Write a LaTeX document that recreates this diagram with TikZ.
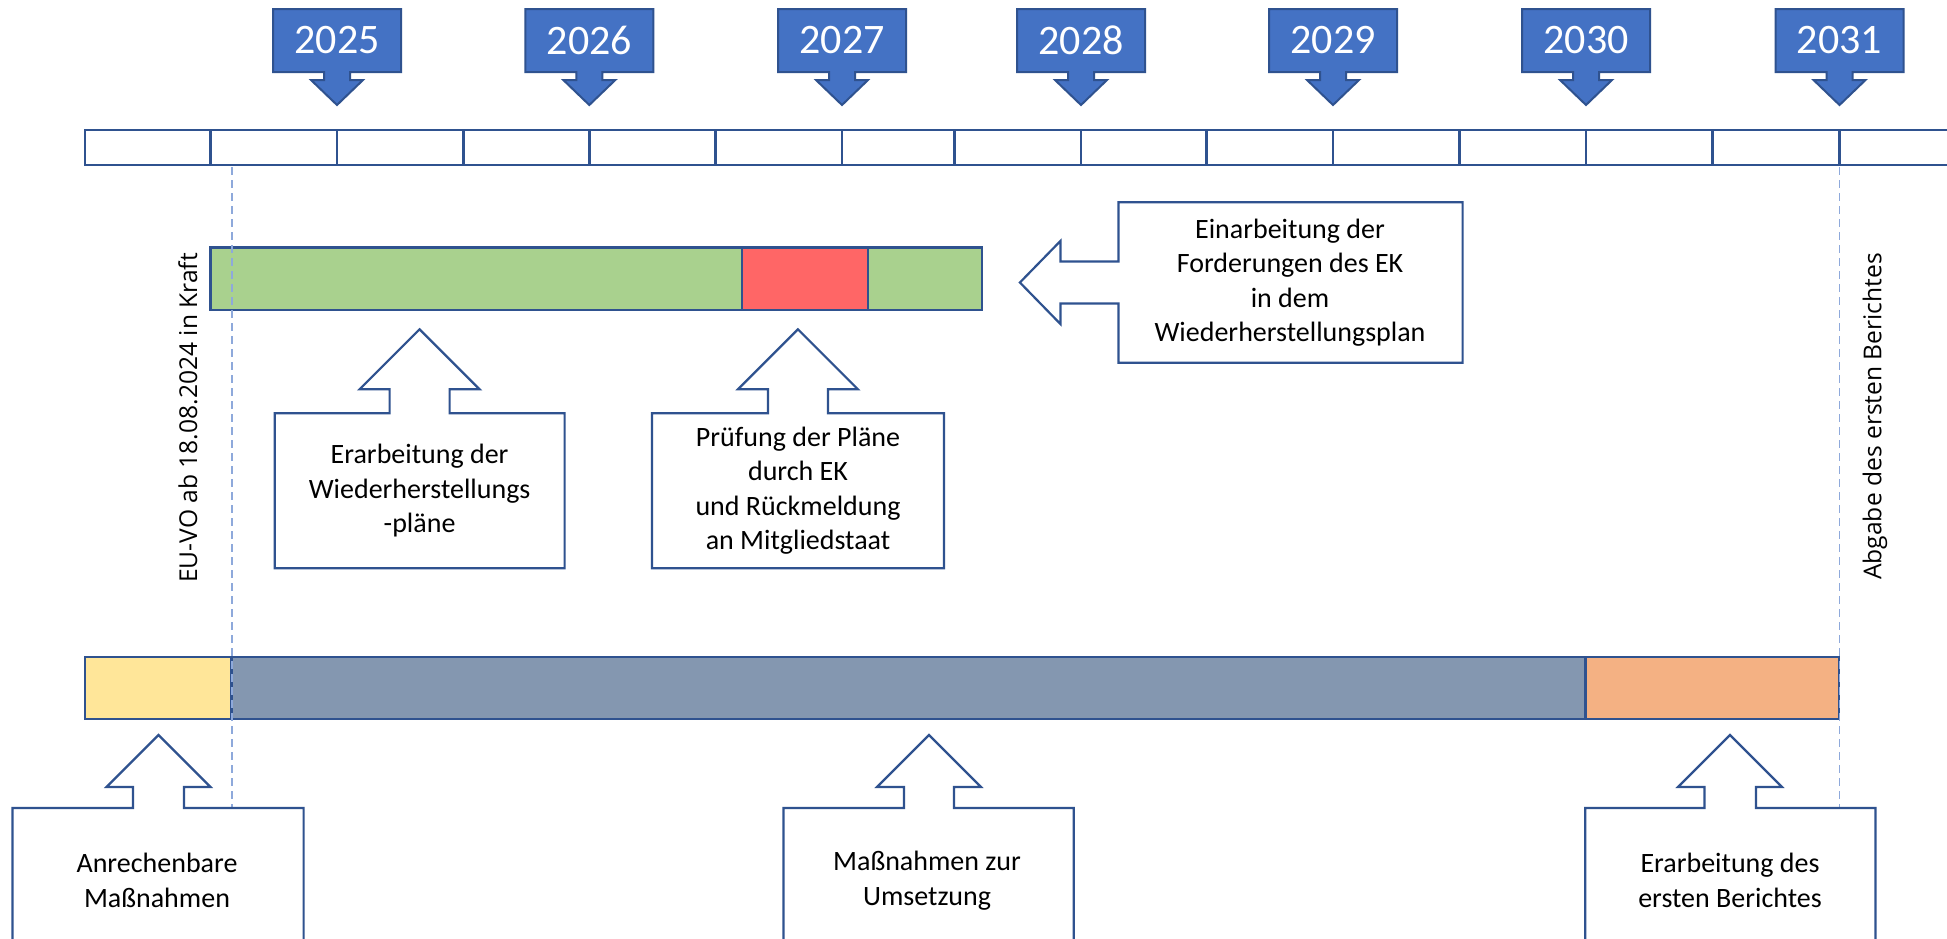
\documentclass[tikz,border=0pt]{standalone}
\usepackage{fontspec}
\setmainfont{Carlito}
\newfontfamily\rotfont{Open Sans}
\definecolor{dkblue}{HTML}{2F528F}
\definecolor{yrblue}{HTML}{4472C4}
\definecolor{guideblue}{HTML}{8EA9DB}
\definecolor{grn}{HTML}{A9D18E}
\definecolor{rd}{HTML}{FF6666}
\definecolor{slate}{HTML}{8497B0}
\definecolor{yel}{HTML}{FFE699}
\definecolor{org}{HTML}{F4B183}
\begin{document}
\begin{tikzpicture}[x=0.5pt,y=-0.5pt,
  outl/.style={draw=dkblue, line width=1.1pt, line join=miter},
  barline/.style={draw=dkblue, line width=1.3pt},
  yearbox/.style={fill=yrblue, draw=dkblue, line width=1pt},
  calltext/.style={align=center, font=\fontsize{14}{17.2}\selectfont, inner sep=0pt},
  yeartext/.style={text=white, font=\fontsize{21}{25}\selectfont, inner sep=0pt},
  rottext/.style={rotate=90, font=\rotfont\fontsize{12.3}{14}\selectfont, inner sep=0pt},
  guide/.style={draw=guideblue, line width=0.6pt, dash pattern=on 4pt off 2.5pt}]
\useasboundingbox (0,0) rectangle (1947,938);
\clip (0,0) rectangle (1947,938);
\fill[white] (0,0) rectangle (1947,938);

% year callouts
\foreach \yr/\tx in {2025/337,2026/589.3,2027/842,2028/1081,2029/1333,2030/1586,2031/1839.5}{
  \draw[yearbox] (\tx-64,9) -- (\tx+64,9) -- (\tx+64,72) -- (\tx+13,72) -- (\tx+13,80)
     -- (\tx+26,80) -- (\tx,105) -- (\tx-26,80) -- (\tx-13,80) -- (\tx-13,72) -- (\tx-64,72) -- cycle;
  \node[yeartext] (y\yr) at (\tx,40) {\yr};
}

% timeline bar
\draw[barline, fill=white] (84.8,130) rectangle (1965,165);
\foreach \dx in {210.7,337,463.4,589.3,715.6,842,954.5,1080.8,1206.7,1333,1459.3,1585.9,1712.2,1839.5}{
  \draw[barline] (\dx,130) -- (\dx,165);
}

% green/red bar
\draw[barline, fill=grn] (210.7,247.7) rectangle (982,310);
\draw[barline, fill=rd] (742,247.7) rectangle (868,310);

% bottom bar
\draw[barline, fill=yel] (84.8,657) rectangle (231.7,719);
\draw[barline, fill=slate] (231.7,657) rectangle (1585.2,719);
\draw[barline, fill=org] (1585.2,657) rectangle (1839,719);

% guides
\coordinate (g1t) at (232,167);
\coordinate (g1b) at (232,808);
\coordinate (g2t) at (1839.5,167);
\coordinate (g2b) at (1839.5,808);
\draw[guide] (g1t) -- (g1b);
\draw[guide] (g2t) -- (g2b);

% rotated labels
\node[rottext] (euvo) at (188,418) {EU-VO ab 18.08.2024 in Kraft};
\node[rottext] (abgabe) at (1875,416.5) {Abgabe des ersten Berichtes};

% upper callouts (up arrows)
\draw[outl, fill=white] (274.7,413.3) -- (389.6,413.3) -- (389.6,389.3) -- (359.6,389.3) -- (419.6,329.3)
  -- (479.6,389.3) -- (449.6,389.3) -- (449.6,413.3) -- (564.6,413.3) -- (564.6,568.3) -- (274.7,568.3) -- cycle;
\node[calltext] (erarb) at (419.6,490.8) {Erarbeitung der\\Wiederherstellungs\\-pläne};

\draw[outl, fill=white] (652,413.3) -- (767.9,413.3) -- (767.9,389.3) -- (737.9,389.3) -- (797.9,329.3)
  -- (857.9,389.3) -- (827.9,389.3) -- (827.9,413.3) -- (944,413.3) -- (944,568.3) -- (652,568.3) -- cycle;
\node[calltext] (pruef) at (798,490.8) {Prüfung der Pläne\\durch EK\\und Rückmeldung\\an Mitgliedstaat};

% left arrow callout
\draw[outl, fill=white] (1118.4,202.3) -- (1462.6,202.3) -- (1462.6,362.7) -- (1118.4,362.7) -- (1118.4,303.5)
  -- (1060.4,303.5) -- (1060.4,324) -- (1019.9,282.5) -- (1060.4,241) -- (1060.4,261.5) -- (1118.4,261.5) -- cycle;
\node[calltext] (einarb) at (1290,282.5) {Einarbeitung der\\Forderungen des EK\\in dem\\Wiederherstellungsplan};

% bottom callouts
\draw[outl, fill=white] (12.5,960) -- (12.5,808) -- (133,808) -- (133,787) -- (106.5,787) -- (158.5,735)
  -- (210.5,787) -- (184,787) -- (184,808) -- (303.6,808) -- (303.6,960);
\node[calltext] (anr) at (157,880.5) {Anrechenbare\\Maßnahmen};

\draw[outl, fill=white] (783.5,960) -- (783.5,808) -- (904,808) -- (904,787) -- (877,787) -- (929,735)
  -- (981,787) -- (954,787) -- (954,808) -- (1073.8,808) -- (1073.8,960);
\node[calltext] (umsetz) at (927,880.5) {Maßnahmen zur\\Umsetzung};

\draw[outl, fill=white] (1585.2,960) -- (1585.2,808) -- (1704.5,808) -- (1704.5,787) -- (1678,787) -- (1730,735)
  -- (1782,787) -- (1756,787) -- (1756,808) -- (1875.4,808) -- (1875.4,960);
\node[calltext] (bericht) at (1730,880.5) {Erarbeitung des\\ersten Berichtes};
\end{tikzpicture}
\end{document}
